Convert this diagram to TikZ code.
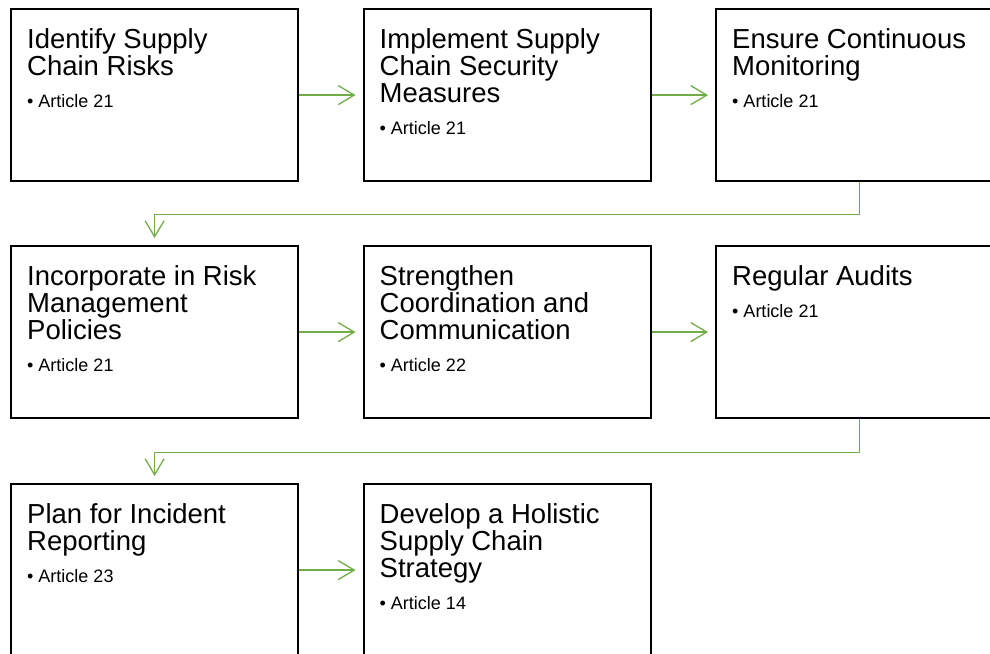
\documentclass[tikz,border=0pt]{standalone}
\usepackage{fontspec}
\setmainfont{Liberation Sans}
\usetikzlibrary{arrows.meta,calc}
\definecolor{flowgreen}{HTML}{70AD47}
\tikzset{
  stepbox/.style={draw=black, line width=2.2pt, fill=white, rectangle,
    minimum width=287pt, minimum height=172pt, inner sep=0pt, anchor=north west},
  steptext/.style={anchor=base west, inner sep=0pt, text width=262pt, align=flush left,
    font=\fontsize{27.5}{27}\selectfont},
  flow/.style={draw=flowgreen, line width=1.3pt, shorten >=7pt,
    -{Straight Barb[length=16pt,width=19pt,line width=1.3pt]}}
}
\newcommand{\stepitem}[1]{\par\fontsize{18}{32}\selectfont\textbullet\ #1\par}
\begin{document}
\begin{tikzpicture}[x=1pt,y=-1pt]
\useasboundingbox (0,0) rectangle (990,653);
\clip (0,0) rectangle (990,653);

% step boxes, three rows of three columns
\node[stepbox] (b1) at (10,8) {};
\node[stepbox] (b2) at (362.5,8) {};
\node[stepbox] (b3) at (715,8) {};
\node[stepbox] (b4) at (10,245) {};
\node[stepbox] (b5) at (362.5,245) {};
\node[stepbox] (b6) at (715,245) {};
\node[stepbox] (b7) at (10,483) {};
\node[stepbox] (b8) at (362.5,483) {};

% box contents
\node[steptext] (t1) at ($(b1.north west)+(17,40)$) {Identify Supply\\Chain Risks\stepitem{Article 21}};
\node[steptext] (t2) at ($(b2.north west)+(17,40)$) {Implement Supply\\Chain Security\\Measures\stepitem{Article 21}};
\node[steptext] (t3) at ($(b3.north west)+(17,40)$) {Ensure Continuous\\Monitoring\stepitem{Article 21}};
\node[steptext] (t4) at ($(b4.north west)+(17,40)$) {Incorporate in Risk\\Management\\Policies\stepitem{Article 21}};
\node[steptext] (t5) at ($(b5.north west)+(17,40)$) {Strengthen\\Coordination and\\Communication\stepitem{Article 22}};
\node[steptext] (t6) at ($(b6.north west)+(17,40)$) {Regular Audits\stepitem{Article 21}};
\node[steptext] (t7) at ($(b7.north west)+(17,40)$) {Plan for Incident\\Reporting\stepitem{Article 23}};
\node[steptext] (t8) at ($(b8.north west)+(17,40)$) {Develop a Holistic\\Supply Chain\\Strategy\stepitem{Article 14}};

% connectors along each row
\draw[flow] (b1.east) -- (b2.west);
\draw[flow] (b2.east) -- (b3.west);
\draw[flow] (b4.east) -- (b5.west);
\draw[flow] (b5.east) -- (b6.west);
\draw[flow] (b7.east) -- (b8.west);

% connectors wrapping to the next row
\draw[flow] (b3.south) -- ++(0,32) -| (b4.north);
\draw[flow] (b6.south) -- ++(0,33) -| (b7.north);
\end{tikzpicture}
\end{document}
